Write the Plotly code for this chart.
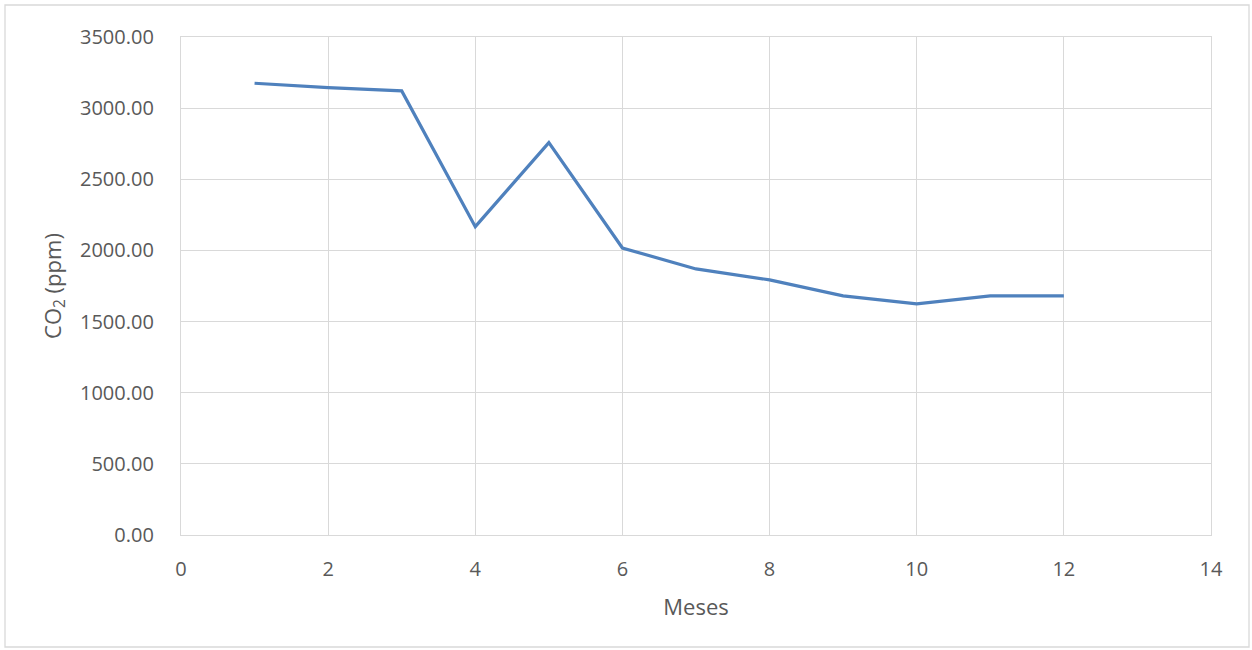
import plotly.graph_objects as go

# Monthly CO2 concentration
meses = [1, 2, 3, 4, 5, 6, 7, 8, 9, 10, 11, 12]
co2_ppm = [3175, 3144, 3121, 2167, 2758, 2017, 1870, 1793, 1681, 1625, 1681, 1681]

fig = go.Figure()
fig.add_trace(go.Scatter(
    x=meses, y=co2_ppm, mode="lines",
    line=dict(color="#4F81BD", width=3.2),
    showlegend=False,
))

tick_font = dict(family="Open Sans, Liberation Sans, sans-serif", size=20, color="#595959")
title_font = dict(family="Open Sans, Liberation Sans, sans-serif", size=22, color="#595959")

fig.update_layout(
    width=1252, height=650,
    margin=dict(l=181, r=41, t=37, b=115),
    paper_bgcolor="white", plot_bgcolor="white",
    xaxis=dict(
        range=[0, 14], dtick=2, tick0=0,
        showgrid=True, gridcolor="#d9d9d9", gridwidth=1.3,
        zeroline=False, showline=True, linecolor="#d9d9d9", linewidth=1.3,
        mirror=True,
        ticks="", tickfont=tick_font, ticklabelstandoff=16,
        title=dict(text="Meses", font=title_font, standoff=18),
    ),
    yaxis=dict(
        range=[0, 3500], dtick=500, tick0=0, tickformat=".2f",
        showgrid=True, gridcolor="#d9d9d9", gridwidth=1.3,
        zeroline=False, showline=True, linecolor="#d9d9d9", linewidth=1.3,
        mirror=True,
        ticks="", tickfont=tick_font, ticklabelstandoff=22,
        title=dict(text="CO<sub>2</sub> (ppm)", font=title_font, standoff=12),
    ),
    shapes=[dict(
        type="rect", xref="paper", yref="paper",
        x0=(5 - 181) / 1030, x1=(1249 - 181) / 1030,
        y0=(535 - 647) / 498, y1=(535 - 5) / 498,
        line=dict(color="#d9d9d9", width=1.3), fillcolor="rgba(0,0,0,0)",
        layer="below",
    )],
)

fig.write_html("out.html")
